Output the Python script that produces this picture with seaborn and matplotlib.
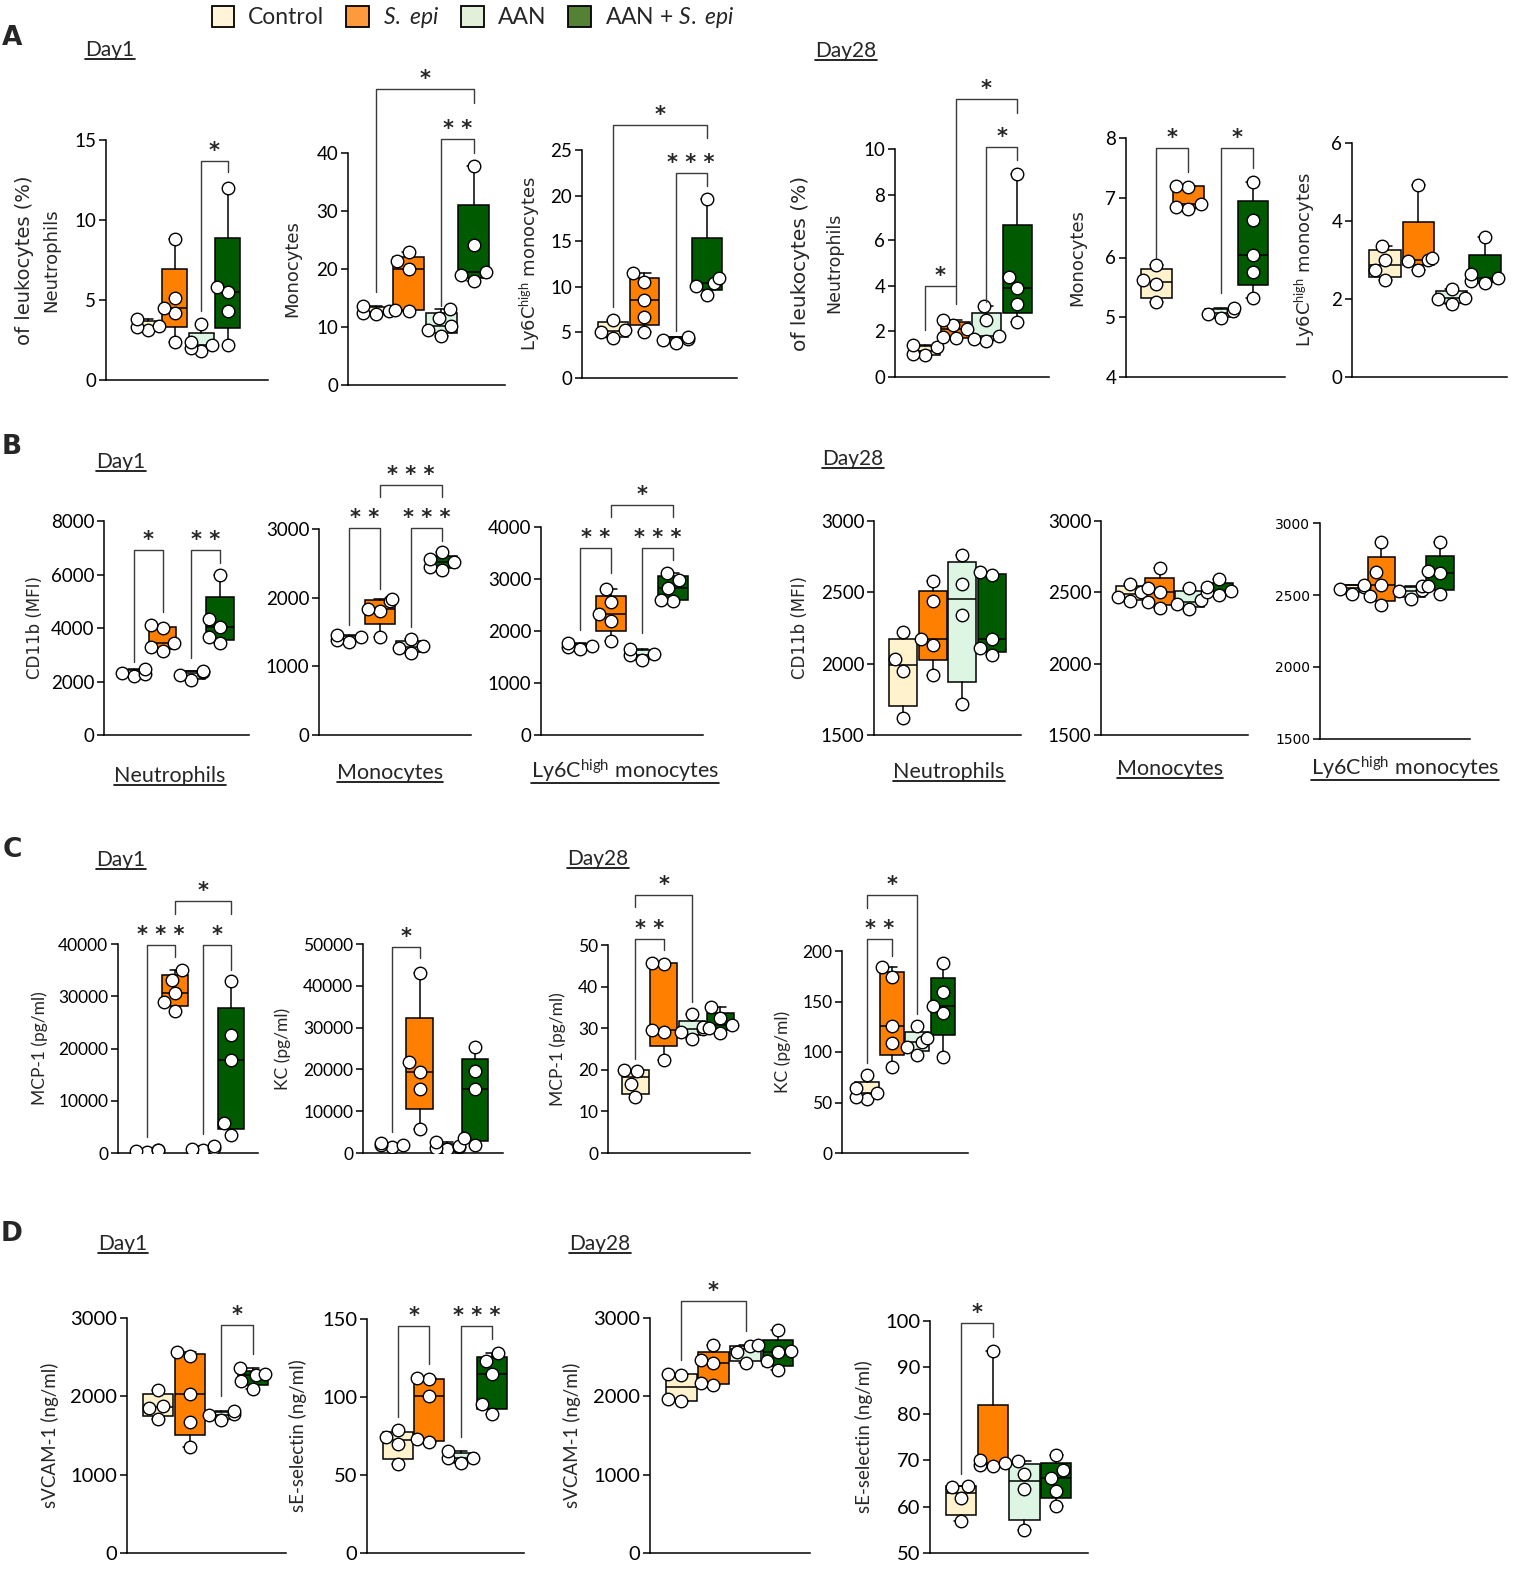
import warnings
import numpy as np
import pandas as pd
import seaborn as sns
import matplotlib
matplotlib.use("Agg")
import matplotlib.pyplot as plt
from matplotlib.patches import Patch
from matplotlib.lines import Line2D

warnings.filterwarnings("ignore")

groups = ["Control", "S. epi", "AAN", "AAN + S. epi"]
box_colors = ["#FFF2CC", "#FF7F00", "#DDF6E4", "#005A00"]
legend_colors = ["#FFF3D9", "#FF9A3C", "#E2F0D9", "#548235"]
legend_labels = ["Control", r"$\mathit{S.}$ $\mathit{epi}$", "AAN", r"AAN + $\mathit{S.}$ $\mathit{epi}$"]

# A - % of leukocytes (Control, S. epi, AAN, AAN + S. epi)
a_d1_neut = [[3.1, 3.3, 3.4, 3.8], [2.4, 4.2, 4.5, 5.1, 8.8], [1.8, 2.0, 2.2, 2.4, 3.5], [2.2, 4.3, 5.5, 5.8, 12.0]]
a_d1_mono = [[12.2, 12.5, 12.8, 13.7], [12.7, 13.0, 20.0, 21.4, 22.9], [8.4, 9.5, 10.2, 11.6, 13.1], [18.0, 18.9, 19.4, 24.1, 37.8]]
a_d1_ly6c = [[4.4, 5.0, 5.3, 6.4], [5.0, 6.7, 8.5, 10.5, 11.5], [3.8, 4.2, 4.3, 4.5], [9.1, 10.1, 10.4, 11.0, 19.6]]
a_d28_neut = [[0.95, 1.0, 1.3, 1.4], [1.7, 1.75, 2.1, 2.3, 2.5], [1.6, 1.65, 1.8, 2.5, 3.1], [2.4, 3.2, 3.9, 4.4, 8.9]]
a_d28_mono = [[5.25, 5.55, 5.62, 5.88], [6.82, 6.85, 6.9, 7.18, 7.2], [4.98, 5.05, 5.1, 5.15], [5.32, 5.76, 6.04, 6.63, 7.26]]
a_d28_ly6c = [[2.5, 2.75, 3.0, 3.35], [2.74, 2.98, 3.0, 3.05, 4.92], [1.87, 2.0, 2.03, 2.25], [2.4, 2.45, 2.55, 2.65, 3.6]]

# B - CD11b (MFI)
b_d1_neut = [[2200, 2280, 2320, 2450], [3150, 3300, 3450, 4000, 4100], [2050, 2250, 2350, 2400], [3450, 3650, 4050, 4350, 6000]]
b_d1_mono = [[1360, 1390, 1420, 1450], [1430, 1800, 1840, 1950, 1980], [1190, 1270, 1300, 1400], [2410, 2450, 2520, 2560, 2660]]
b_d1_ly6c = [[1650, 1700, 1720, 1770], [1800, 2200, 2320, 2550, 2800], [1450, 1530, 1560, 1650], [2580, 2600, 2830, 2990, 3120]]
b_d28_neut = [[1620, 1950, 2030, 2220], [1920, 2130, 2170, 2440, 2580], [1720, 2340, 2560, 2760], [2060, 2110, 2170, 2620, 2640]]
b_d28_mono = [[2440, 2470, 2500, 2560], [2390, 2430, 2500, 2530, 2670], [2385, 2420, 2445, 2530], [2480, 2505, 2510, 2540, 2595]]
b_d28_ly6c = [[2510, 2540, 2555, 2570], [2430, 2490, 2570, 2660, 2870], [2475, 2525, 2535, 2560], [2510, 2560, 2655, 2665, 2870]]

# C - plasma chemokines
c_d1_mcp1 = [[150, 300, 500, 600], [27200, 28900, 30600, 33200, 35100], [500, 800, 1000, 1300], [3500, 5800, 17800, 22600, 33000]]
c_d1_kc = [[1500, 1800, 2000, 2300], [5700, 15350, 19400, 21700, 43000], [900, 1200, 1500, 1700, 2600], [1900, 3700, 15200, 19500, 25300]]
c_d28_mcp1 = [[13.4, 16.6, 19.7, 19.9], [22.3, 29.0, 29.6, 45.5, 45.7], [27.5, 29.0, 29.8, 30.2, 33.4], [28.9, 30.0, 30.8, 32.5, 35.0]]
c_d28_kc = [[53, 55, 59, 64, 77], [85, 109, 126, 174, 184], [97, 105, 110, 114, 126], [95, 139, 146, 159, 188]]

# D - soluble adhesion molecules
d_d1_svcam = [[1715, 1850, 1880, 2085], [1352, 1673, 2030, 2518, 2560], [1700, 1760, 1775, 1815], [2096, 2200, 2270, 2290, 2360]]
d_d1_sesel = [[56.8, 69.8, 74.5, 78.7], [71.3, 72.8, 100.6, 111.3, 112.0], [57.4, 61.0, 61.2, 65.3], [89.0, 95.7, 114.9, 123.0, 128.3]]
d_d28_svcam = [[1940, 1960, 2270, 2290], [2150, 2165, 2420, 2460, 2660], [2420, 2560, 2640, 2650], [2330, 2450, 2565, 2580, 2850]]
d_d28_sesel = [[56.9, 61.8, 64.2, 64.4], [68.8, 69.0, 69.5, 70.0, 93.6], [54.9, 63.9, 67.1, 69.8], [60.2, 63.3, 66.1, 67.9, 71.1]]

sns.set_theme(style="ticks")
plt.rcParams["font.family"] = ["Lato", "DejaVu Sans"]
plt.rcParams["mathtext.fontset"] = "custom"
plt.rcParams["mathtext.rm"] = "Lato"
plt.rcParams["mathtext.it"] = "Lato:italic"
plt.rcParams["mathtext.bf"] = "Lato:bold"

W, H = 1517, 1578
fig = plt.figure(figsize=(W / 100, H / 100), dpi=100)
fig.patch.set_facecolor("white")


def ftext(x, y, s, **kw):
    return fig.text(x / W, 1 - y / H, s, **kw)


ly6c = r"Ly6C$^{\mathrm{high}}$ monocytes"
# (data, (left, right, y_top, y_bottom) px, ylim, yticks, xlim, tick size, brackets, ylabels [(text, x px, size, family)])
panels = [
    dict(data=a_d1_neut, box=(106, 268, 140, 380), ylim=(0, 15), yticks=[0, 5, 10, 15], xlim=(-1.58, 4.51), fs=13.5,
         br=[(2, 3, 13.7, 4.3, 13.0, "*")],
         yl=[("of leukocytes (%)", 25, 14, "DejaVu Sans"), ("Neutrophils", 51, 13, "DejaVu Sans")]),
    dict(data=a_d1_mono, box=(348, 505, 153, 385), ylim=(0, 40), yticks=[0, 10, 20, 30, 40], xlim=(-0.85, 3.95), fs=13.5,
         br=[(0, 3, 51.0, 16.0, 48.6, "*"), (2, 3, 42.4, 13.7, 40.0, "**")],
         yl=[("Monocytes", 292, 13, "DejaVu Sans")]),
    dict(data=a_d1_ly6c, box=(582, 737, 150, 378), ylim=(0, 25), yticks=[0, 5, 10, 15, 20, 25], xlim=(-1.0, 3.97), fs=13.5,
         br=[(0, 3, 27.7, 7.8, 26.3, "*"), (2, 3, 22.5, 5.1, 21.0, "***")],
         yl=[(ly6c, 530, 13, "DejaVu Sans")]),
    dict(data=a_d28_neut, box=(895, 1049, 149, 377), ylim=(0, 10), yticks=[0, 2, 4, 6, 8, 10], xlim=(-0.97, 4.03), fs=13.5,
         br=[(0, 1, 3.97, 2.06, 3.97, "*"), (1, 3, 12.2, 3.2, 11.6, "*"), (2, 3, 10.1, 3.3, 9.5, "*")],
         yl=[("of leukocytes (%)", 800, 14.5, "DejaVu Sans"), ("Neutrophils", 834, 12.5, "DejaVu Sans")]),
    dict(data=a_d28_mono, box=(1126, 1285, 138, 377), ylim=(4, 8), yticks=[4, 5, 6, 7, 8], xlim=(-0.94, 4.0), fs=13.5,
         br=[(0, 1, 7.83, 6.0, 7.43, "*"), (2, 3, 7.83, 5.4, 7.5, "*")],
         yl=[("Monocytes", 1077, 13, "DejaVu Sans")]),
    dict(data=a_d28_ly6c, box=(1352, 1507, 143, 377), ylim=(0, 6), yticks=[0, 2, 4, 6], xlim=(-1.0, 3.67), fs=13.5,
         br=[], yl=[(ly6c, 1305, 13, "DejaVu Sans")]),
    dict(data=b_d1_neut, box=(104, 249, 521, 735), ylim=(0, 8000), yticks=[0, 2000, 4000, 6000, 8000], xlim=(-1.03, 4.0), fs=13.5,
         br=[(0, 1, 6920, 2720, 4580, "*"), (2, 3, 6920, 2880, 6420, "**")],
         yl=[("CD11b (MFI)", 35, 12, "DejaVu Sans")]),
    dict(data=b_d1_mono, box=(319, 471, 529, 735), ylim=(0, 3000), yticks=[0, 1000, 2000, 3000], xlim=(-0.97, 3.94), fs=13.5,
         br=[(0, 1, 3010, 1600, 2130, "**"), (2, 3, 3010, 1580, 2820, "***"), (1, 3, 3640, 3460, 3460, "***")], yl=[]),
    dict(data=b_d1_ly6c, box=(541, 703, 527, 735), ylim=(0, 4000), yticks=[0, 1000, 2000, 3000, 4000], xlim=(-1.26, 3.97), fs=13.5,
         br=[(0, 1, 3590, 2025, 3110, "**"), (2, 3, 3590, 1960, 3360, "***"), (1, 3, 4430, 4200, 4200, "*")], yl=[]),
    dict(data=b_d28_neut, box=(874, 1021, 521, 735), ylim=(1500, 3000), yticks=[1500, 2000, 2500, 3000], xlim=(-1.0, 4.0), fs=13.5,
         br=[], yl=[("CD11b (MFI)", 800, 12, "DejaVu Sans")]),
    dict(data=b_d28_mono, box=(1101, 1248, 521, 735), ylim=(1500, 3000), yticks=[1500, 2000, 2500, 3000], xlim=(-0.97, 3.97), fs=13.5,
         br=[], yl=[]),
    dict(data=b_d28_ly6c, box=(1320, 1470, 523, 739), ylim=(1500, 3000), yticks=[1500, 2000, 2500, 3000], xlim=(-1.1, 4.03), fs=10,
         br=[], yl=[], tfam="DejaVu Sans"),
    dict(data=c_d1_mcp1, box=(118, 258, 944, 1153), ylim=(0, 40000), yticks=[0, 10000, 20000, 30000, 40000], xlim=(-1.04, 3.96), fs=12.5,
         br=[(0, 1, 39800, 3000, 37500, "***"), (2, 3, 39800, 3600, 35000, "*"), (1, 3, 48200, 45800, 45800, "*")],
         yl=[("MCP-1 (pg/ml)", 40, 12.5, "Lato")]),
    dict(data=c_d1_kc, box=(363, 503, 944, 1153), ylim=(0, 50000), yticks=[0, 10000, 20000, 30000, 40000, 50000], xlim=(-1.04, 4.0), fs=12.5,
         br=[(0, 1, 49200, 5100, 46700, "*")],
         yl=[("KC (pg/ml)", 283, 12.5, "Lato")]),
    dict(data=c_d28_mcp1, box=(608, 750, 945, 1153), ylim=(0, 50), yticks=[0, 10, 20, 30, 40, 50], xlim=(-0.97, 4.05), fs=12.5,
         br=[(0, 1, 51.4, 22.5, 48.8, "**"), (0, 2, 61.9, 59.1, 36.4, "*")],
         yl=[("MCP-1 (pg/ml)", 558, 12.5, "Lato")]),
    dict(data=c_d28_kc, box=(842, 968, 951, 1153), ylim=(0, 200), yticks=[0, 50, 100, 150, 200], xlim=(-0.97, 4.0), fs=12.5,
         br=[(0, 1, 212, 89, 195, "**"), (0, 2, 255, 243, 138, "*")],
         yl=[("KC (pg/ml)", 783, 12.5, "Lato")]),
    dict(data=d_d1_svcam, box=(127, 286, 1318, 1553), ylim=(0, 3000), yticks=[0, 1000, 2000, 3000], xlim=(-0.98, 4.05), fs=14.5,
         br=[(2, 3, 2907, 2000, 2535, "*")],
         yl=[("sVCAM-1 (ng/ml)", 50, 13.5, "Lato")]),
    dict(data=d_d1_sesel, box=(367, 524, 1319, 1553), ylim=(0, 150), yticks=[0, 50, 100, 150], xlim=(-0.99, 4.02), fs=14.5,
         br=[(0, 1, 145.7, 87.2, 121.3, "*"), (2, 3, 145.7, 74.5, 137.2, "***")],
         yl=[("sE-selectin (ng/ml)", 298, 13.5, "Lato")]),
    dict(data=d_d28_svcam, box=(650, 810, 1318, 1553), ylim=(0, 3000), yticks=[0, 1000, 2000, 3000], xlim=(-0.97, 4.0), fs=14.5,
         br=[(0, 2, 3212, 2470, 2839, "*")],
         yl=[("sVCAM-1 (ng/ml)", 572, 13.5, "Lato")]),
    dict(data=d_d28_sesel, box=(930, 1088, 1321, 1553), ylim=(50, 100), yticks=[50, 60, 70, 80, 90, 100], xlim=(-0.97, 4.0), fs=14.5,
         br=[(0, 1, 99.6, 67.1, 96.6, "*")],
         yl=[("sE-selectin (ng/ml)", 864, 13.5, "Lato")]),
]


def draw_panel(p):
    left, right, top, bottom = p["box"]
    ax = fig.add_axes([left / W, 1 - bottom / H, (right - left) / W, (bottom - top) / H])
    data = p["data"]
    stats = []
    for vals in data:
        v = np.asarray(vals, float)
        q1, med, q3 = np.percentile(v, [25, 50, 75], method="weibull")
        stats.append(dict(med=med, q1=q1, q3=q3, whislo=v.min(), whishi=v.max(), fliers=[]))
    line = dict(color="black", linewidth=1.1)
    bp = ax.bxp(stats, positions=range(4), widths=0.95, patch_artist=True, showfliers=False,
                manage_ticks=False, capwidths=0.4, boxprops=dict(linewidth=1.1, edgecolor="black"),
                medianprops=line, whiskerprops=line, capprops=line)
    for patch, c in zip(bp["boxes"], box_colors):
        patch.set_facecolor(c)
    df = pd.DataFrame({"group": [g for g, vals in zip(groups, data) for _ in vals],
                       "value": [x for vals in data for x in vals]})
    sns.swarmplot(data=df, x="group", y="value", order=groups, ax=ax, color="white",
                  edgecolor="black", linewidth=1.0, size=9, zorder=5)
    ax.set_xlim(*p["xlim"])
    ax.set_ylim(*p["ylim"])
    ax.set_yticks(p["yticks"])
    ax.set_xticks([])
    ax.set_xlabel("")
    ax.set_ylabel("")
    sns.despine(ax=ax)
    for s in ["left", "bottom"]:
        ax.spines[s].set_linewidth(1.1)
        ax.spines[s].set_color("black")
    ax.tick_params(axis="y", direction="out", length=5, width=1.1, labelsize=p["fs"], colors="black", pad=2)
    if "tfam" in p:
        for t in ax.get_yticklabels():
            t.set_family("DejaVu Sans")
    for i, j, ytop, yl, yr, lab in p["br"]:
        ax.plot([i, i, j, j], [yl, ytop, ytop, yr], color="#3a3a3a", lw=1.0, clip_on=False, zorder=6)
        ax.text((i + j) / 2, ytop, " ".join(lab), ha="center", va="bottom", fontsize=15,
                fontweight="bold", family="DejaVu Sans", clip_on=False)
    yc = (top + bottom) / 2
    for txt, x, fs, fam in p["yl"]:
        ftext(x, yc, txt, rotation=90, ha="center", va="center", fontsize=fs, family=fam)
    return ax


for p in panels:
    draw_panel(p)

# legend
handles = [Patch(facecolor=c, edgecolor="black", linewidth=1.3) for c in legend_colors]
fig.legend(handles, legend_labels, loc="upper center", bbox_to_anchor=(473 / W, 1.0 - 3 / H), ncol=4, frameon=False,
           fontsize=16.5, handlelength=1.0, handleheight=1.0, handletextpad=0.6, columnspacing=0.95,
           borderpad=0.1, borderaxespad=0.0)

# panel letters
for letter, y in [("A", 38), ("B", 447), ("C", 850), ("D", 1234)]:
    ftext(12, y, letter, ha="center", va="center", fontsize=19, fontweight="bold", family="DejaVu Sans")

underlined = []
day_labels = [("Day1", 110, 50), ("Day28", 846, 51), ("Day1", 121, 462), ("Day28", 853, 459),
              ("Day1", 121, 860), ("Day28", 598, 859), ("Day1", 123, 1244), ("Day28", 600, 1244)]
for s, x, y in day_labels:
    underlined.append(ftext(x, y, s, ha="center", va="center", fontsize=15))

cell_labels = [("Neutrophils", 170, 776), ("Monocytes", 390, 773), (ly6c, 625, 771),
               ("Neutrophils", 949, 772), ("Monocytes", 1170, 769), (ly6c, 1405, 768)]
for s, x, y in cell_labels:
    underlined.append(ftext(x, y, s, ha="center", va="center", fontsize=15.5))

fig.canvas.draw()
renderer = fig.canvas.get_renderer()
inv = fig.transFigure.inverted()
for t in underlined:
    bb = t.get_window_extent(renderer)
    (x0, y0), (x1, _) = inv.transform([(bb.x0, bb.y0 + 1), (bb.x1, bb.y1)])
    fig.add_artist(Line2D([x0, x1], [y0, y0], transform=fig.transFigure, color="black", lw=1.2))

fig.savefig("out.png", dpi=100)
